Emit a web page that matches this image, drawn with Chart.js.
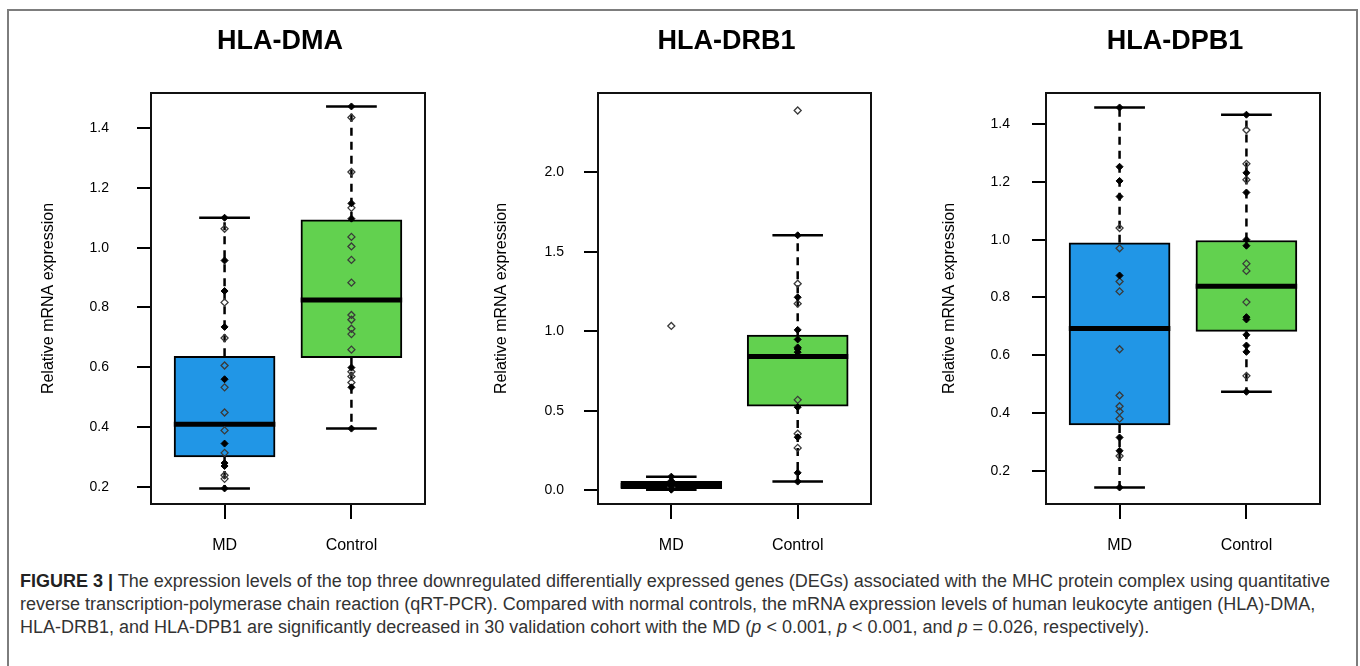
<!DOCTYPE html>
<html lang="en">
<head>
  <meta charset="UTF-8">
  <title>HLA qRT-PCR boxplots</title>
  <script src="https://cdn.jsdelivr.net/npm/chart.js@4.4.0/dist/chart.umd.min.js"></script>
  <style>
    body { margin: 0; background: #fff; width: 1360px; height: 666px; overflow: hidden; position: relative;
           font-family: "Liberation Sans", Arial, sans-serif; }
    .frame { position: absolute; left: 7px; top: 9px; width: 1347px; height: 720px;
             border: 2px solid #7d7d7d; border-bottom: none; }
    .panel { position: absolute; top: 0; height: 560px; }
    .caption { position: absolute; left: 20px; top: 570px; font-size: 18px; line-height: 23px;
               color: #333; white-space: nowrap; }
    .caption b { color: #222; }
  </style>
</head>
<body>
  <div class="frame"></div>
  <div class="panel" id="p1" style="left:10px;width:440px"><canvas id="c1"></canvas></div>
  <div class="panel" id="p2" style="left:455px;width:445px"><canvas id="c2"></canvas></div>
  <div class="panel" id="p3" style="left:905px;width:445px"><canvas id="c3"></canvas></div>

  <div class="caption"><b>FIGURE 3 |</b> The expression levels of the top three downregulated differentially expressed genes (DEGs) associated with the MHC protein complex using quantitative<br>reverse transcription-polymerase chain reaction (qRT-PCR). Compared with normal controls, the mRNA expression levels of human leukocyte antigen (HLA)-DMA,<br>HLA-DRB1, and HLA-DPB1 are significantly decreased in 30 validation cohort with the MD (<i>p</i> &lt; 0.001, <i>p</i> &lt; 0.001, and <i>p</i> = 0.026, respectively).</div>

  <script>
    // --- data ---
    const categories = ['MD', 'Control'];
    const genes = ['HLA-DMA', 'HLA-DRB1', 'HLA-DPB1'];

    // box statistics: [lower whisker, Q1, median, Q3, upper whisker]
    const dmaMdBox   = [0.195, 0.300, 0.410, 0.637, 1.100];
    const dmaCtrlBox = [0.395, 0.632, 0.825, 1.093, 1.472];
    const drbMdBox   = [0.005, 0.012, 0.032, 0.057, 0.087];
    const drbCtrlBox = [0.056, 0.531, 0.843, 0.977, 1.605];
    const dpbMdBox   = [0.143, 0.359, 0.693, 0.989, 1.457];
    const dpbCtrlBox = [0.474, 0.683, 0.839, 0.997, 1.432];

    // individual samples (open = single point, solid = overlapping points)
    const dmaMdOpen    = [1.063, 0.817, 0.698, 0.606, 0.533, 0.449, 0.389, 0.314, 0.239, 0.227];
    const dmaMdSolid   = [1.100, 0.957, 0.855, 0.735, 0.560, 0.345, 0.280, 0.270, 0.195];
    const dmaCtrlOpen  = [1.435, 1.253, 1.133, 1.036, 1.004, 0.959, 0.883, 0.775, 0.759, 0.729, 0.711, 0.659, 0.585, 0.569, 0.549];
    const dmaCtrlSolid = [1.472, 1.148, 1.097, 0.599, 0.533, 0.395];

    const drbMdOpen    = [1.035, 0.020];
    const drbMdSolid   = [0.087, 0.060, 0.045, 0.030, 0.010, 0.005];
    const drbCtrlOpen  = [2.390, 1.300, 1.175, 0.570, 0.357, 0.268];
    const drbCtrlSolid = [1.605, 1.215, 1.010, 0.950, 0.900, 0.890, 0.870, 0.524, 0.335, 0.111, 0.056];

    const dpbMdOpen    = [1.040, 0.970, 0.855, 0.821, 0.621, 0.461, 0.424, 0.406, 0.381, 0.252];
    const dpbMdSolid   = [1.457, 1.252, 1.203, 1.149, 0.876, 0.316, 0.270, 0.143];
    const dpbCtrlOpen  = [1.379, 1.262, 1.207, 0.917, 0.892, 0.784, 0.529];
    const dpbCtrlSolid = [1.432, 1.231, 1.163, 1.000, 0.979, 0.732, 0.724, 0.671, 0.634, 0.612, 0.474];

    // y axis ranges and tick labels
    const dmaRange = [0.143, 1.517];
    const drbRange = [-0.085, 2.50];
    const dpbRange = [0.086, 1.507];
    const dmaTicks = [0.2, 0.4, 0.6, 0.8, 1.0, 1.2, 1.4];
    const drbTicks = [0.0, 0.5, 1.0, 1.5, 2.0];
    const dpbTicks = [0.2, 0.4, 0.6, 0.8, 1.0, 1.2, 1.4];

    const boxColors = ['#2196e6', '#62d14f'];

    Chart.defaults.font.family = '"Liberation Sans", Arial, sans-serif';
    Chart.defaults.color = '#000';

    // whiskers, caps, medians, frame and panel title
    const boxPlugin = {
      id: 'boxes',
      beforeDatasetsDraw(chart, args, opts) {
        const { ctx, scales: { x, y } } = chart;
        ctx.save();
        ctx.strokeStyle = '#000';
        opts.stats.forEach((s, i) => {
          const pos = i + 1;
          const cx = x.getPixelForValue(pos);
          ctx.lineWidth = 2.5;
          ctx.setLineDash([8, 6]);
          ctx.beginPath();
          ctx.moveTo(cx, y.getPixelForValue(s[3]));
          ctx.lineTo(cx, y.getPixelForValue(s[4]));
          ctx.moveTo(cx, y.getPixelForValue(s[1]));
          ctx.lineTo(cx, y.getPixelForValue(s[0]));
          ctx.stroke();
          ctx.setLineDash([]);
          ctx.beginPath();
          [s[0], s[4]].forEach(v => {
            const py = y.getPixelForValue(v);
            ctx.moveTo(x.getPixelForValue(pos - 0.2), py);
            ctx.lineTo(x.getPixelForValue(pos + 0.2), py);
          });
          ctx.stroke();
        });
        ctx.restore();
      },
      afterDatasetDraw(chart, args, opts) {
        if (args.index !== 0) return;
        const { ctx, scales: { x, y } } = chart;
        ctx.save();
        ctx.strokeStyle = '#000';
        ctx.lineWidth = 5;
        opts.stats.forEach((s, i) => {
          const py = y.getPixelForValue(s[2]);
          ctx.beginPath();
          ctx.moveTo(x.getPixelForValue(i + 1 - 0.4), py);
          ctx.lineTo(x.getPixelForValue(i + 1 + 0.4), py);
          ctx.stroke();
        });
        ctx.restore();
      },
      afterDraw(chart, args, opts) {
        const { ctx, chartArea: a } = chart;
        ctx.save();
        ctx.strokeStyle = '#111';
        ctx.lineWidth = 2;
        ctx.strokeRect(a.left, a.top, a.right - a.left, a.bottom - a.top);
        ctx.fillStyle = '#000';
        ctx.font = 'bold 27px "Liberation Sans", Arial, sans-serif';
        ctx.textAlign = 'center';
        ctx.textBaseline = 'alphabetic';
        ctx.fillText(opts.title, (a.left + a.right) / 2 - 8, 49);
        ctx.restore();
      }
    };

    function points(values, pos) {
      return values.map(v => ({ x: pos, y: v }));
    }

    function makePanel(id, title, mdBox, ctrlBox, mdOpen, mdSolid, ctrlOpen, ctrlSolid, range, ticks, look) {
      return new Chart(document.getElementById(id), {
        type: 'bar',
        data: {
          datasets: [
            {
              type: 'bar',
              data: [{ x: 1, y: [mdBox[1], mdBox[3]] }, { x: 2, y: [ctrlBox[1], ctrlBox[3]] }],
              backgroundColor: boxColors,
              borderColor: '#000',
              borderWidth: 2,
              borderSkipped: false,
              barThickness: 101,
              order: 3
            },
            {
              type: 'scatter',
              data: points(mdOpen, 1).concat(points(ctrlOpen, 2)),
              pointStyle: 'rectRot',
              pointRadius: 3.5,
              borderWidth: 1.3,
              borderColor: '#3a3a3a',
              backgroundColor: 'rgba(0,0,0,0)',
              order: 2
            },
            {
              type: 'scatter',
              data: points(mdSolid, 1).concat(points(ctrlSolid, 2)),
              pointStyle: 'rectRot',
              pointRadius: 3.5,
              borderWidth: 1,
              borderColor: '#000',
              backgroundColor: '#000',
              order: 1
            }
          ]
        },
        options: {
          responsive: true,
          maintainAspectRatio: false,
          animation: false,
          events: [],
          layout: { padding: { left: 0, right: look.padRight, top: 93, bottom: 0 } },
          plugins: {
            legend: { display: false },
            tooltip: { enabled: false },
            boxes: { stats: [mdBox, ctrlBox], title: title }
          },
          scales: {
            x: {
              type: 'linear',
              min: 0.42,
              max: 2.58,
              offset: false,
              grid: { offset: false, drawOnChartArea: false, tickLength: 15, color: '#000', lineWidth: 2 },
              border: { display: false },
              ticks: { padding: 17, font: { size: 16 }, color: '#000', callback: v => categories[v - 1] },
              afterBuildTicks: s => { s.ticks = [{ value: 1 }, { value: 2 }]; },
              afterFit: s => { s.height = 56; }
            },
            y: {
              min: range[0],
              max: range[1],
              beginAtZero: false,
              grid: { drawOnChartArea: false, tickLength: 14, color: '#000', lineWidth: 2 },
              border: { display: false },
              ticks: { padding: look.tickPad, font: { size: 14 }, color: '#000', callback: v => v.toFixed(1) },
              afterBuildTicks: s => { s.ticks = ticks.map(v => ({ value: v })); },
              title: {
                display: true,
                text: 'Relative mRNA expression',
                font: { size: 16 },
                color: '#000',
                padding: { top: look.titlePad, bottom: 0 }
              },
              afterFit: s => { s.width = look.axisWidth; }
            }
          }
        },
        plugins: [boxPlugin]
      });
    }

    makePanel('c1', genes[0], dmaMdBox, dmaCtrlBox, dmaMdOpen, dmaMdSolid, dmaCtrlOpen, dmaCtrlSolid,
              dmaRange, dmaTicks, { axisWidth: 141, padRight: 25, tickPad: 28, titlePad: 29 });
    makePanel('c2', genes[1], drbMdBox, drbCtrlBox, drbMdOpen, drbMdSolid, drbCtrlOpen, drbCtrlSolid,
              drbRange, drbTicks, { axisWidth: 143, padRight: 29, tickPad: 20, titlePad: 37 });
    makePanel('c3', genes[2], dpbMdBox, dpbCtrlBox, dpbMdOpen, dpbMdSolid, dpbCtrlOpen, dpbCtrlSolid,
              dpbRange, dpbTicks, { axisWidth: 141, padRight: 30, tickPad: 22, titlePad: 35 });
  </script>
</body>
</html>
